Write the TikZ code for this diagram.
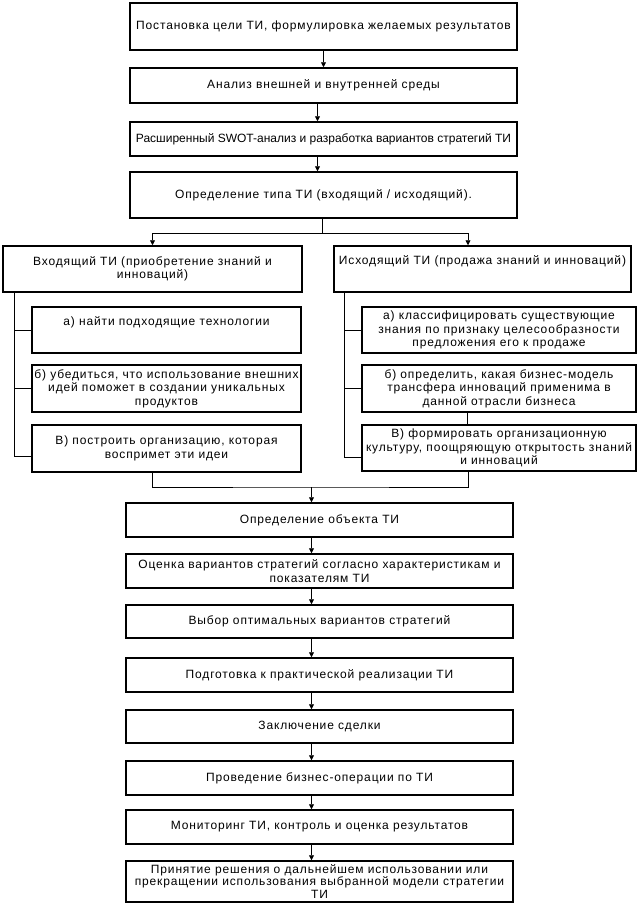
\documentclass[tikz,border=0pt]{standalone}
\usepackage{fontspec}
\setmainfont{Liberation Sans}[LetterSpace=7]
\newfontfamily\swotfont{Liberation Sans}
\usetikzlibrary{arrows.meta,positioning,calc}

\begin{document}
\begin{tikzpicture}[x=1pt, y=-1pt, font=\fontsize{12}{13.5}\selectfont, node distance=15.5pt]
\tikzstyle{box}=[draw, line width=1.5pt, align=center, inner xsep=1pt, inner ysep=1pt]
\tikzstyle{arr}=[line width=0.8pt, -{Triangle[length=5pt,width=5pt]}]
\tikzstyle{ln}=[line width=0.8pt]
\useasboundingbox (0,0) rectangle (639,906);
% main chain, top
\node[box, minimum width=387pt, minimum height=47pt] (goal) at (323.5,26.5) {Постановка цели ТИ, формулировка желаемых результатов};
\node[box, minimum width=387pt, minimum height=35pt, below=16.5pt of goal] (env) {Анализ внешней и внутренней среды};
\node[box, minimum width=387pt, minimum height=34pt, below=17.5pt of env] (swot) {\swotfont Расширенный SWOT-анализ и разработка вариантов стратегий ТИ};
\node[box, minimum width=387pt, minimum height=46pt, below=14.5pt of swot] (type) {Определение типа ТИ (входящий / исходящий).};
% two branches
\node[box, minimum width=299pt, minimum height=46pt] (in) at (152.5,269) {Входящий ТИ (приобретение знаний и\\инноваций)};
\node[box, minimum width=297pt, minimum height=46pt] (out) at (482.5,269) {Исходящий ТИ (продажа знаний и инноваций)\\\strut};
\node[box, minimum width=269pt, minimum height=46pt] (ina) at (166.5,330) {а) найти подходящие технологии\\\strut};
\node[box, minimum width=269pt, minimum height=47pt, below=10.5pt of ina] (inb) {б) убедиться, что использование внешних\\идей поможет в создании уникальных\\продуктов};
\node[box, minimum width=269pt, minimum height=47pt, below=11.5pt of inb] (inc) {В) построить организацию, которая\\воспримет эти идеи};
\node[box, minimum width=274pt, minimum height=46pt] (outa) at (499,330) {а) классифицировать существующие\\знания по признаку целесообразности\\предложения его к продаже};
\node[box, minimum width=274pt, minimum height=47pt, below=10.5pt of outa] (outb) {б) определить, какая бизнес-модель\\трансфера инноваций применима в\\данной отрасли бизнеса};
\node[box, minimum width=274pt, minimum height=46pt, below=11.5pt of outb] (outc) {В) формировать организационную\\культуру, поощряющую открытость знаний\\и инноваций};
% main chain, bottom
\node[box, minimum width=387pt, minimum height=34pt] (obj) at (319.5,520) {Определение объекта ТИ};
\node[box, minimum width=387pt, minimum height=34pt, below=of obj] (eval) {Оценка вариантов стратегий согласно характеристикам и\\показателям ТИ};
\node[box, minimum width=387pt, minimum height=33pt, below=of eval] (choice) {Выбор оптимальных вариантов стратегий};
\node[box, minimum width=387pt, minimum height=34pt, below=18.5pt of choice] (prep) {Подготовка к практической реализации ТИ};
\node[box, minimum width=387pt, minimum height=33pt, below=16.5pt of prep] (deal) {Заключение сделки};
\node[box, minimum width=387pt, minimum height=34pt, below=16.5pt of deal] (oper) {Проведение бизнес-операции по ТИ};
\node[box, minimum width=387pt, minimum height=34pt, below=13.5pt of oper] (mon) {Мониторинг ТИ, контроль и оценка результатов};
\node[box, minimum width=387pt, minimum height=41pt, below=of mon, font=\fontsize{12}{12.5}\selectfont, inner ysep=0pt] (dec) {Принятие решения о дальнейшем использовании или\\прекращении использования выбранной модели стратегии\\ТИ};
% arrows, top
\draw[arr] (goal) -- (env);
\draw[arr] ([xshift=-6pt]env.south) -- ([xshift=-6pt]swot.north);
\draw[arr] ([xshift=-6pt]swot.south) -- ([xshift=-6pt]type.north);
\coordinate (fork) at ([xshift=-1.5pt, yshift=-15pt]type.south);
\draw[ln] ([xshift=-1.5pt]type.south) -- (fork);
\draw[arr] (fork) -| (in.north);
\draw[arr] (fork) -| ([xshift=-14.5pt]out.north);
% branch lines
\draw[ln] ([xshift=12pt]in.south west) |- (ina.west);
\draw[ln] ([xshift=12pt]in.south west) |- (inb.west);
\draw[ln] ([xshift=12pt]in.south west) |- ([yshift=-7.5pt]inc.west);
\draw[ln] ([xshift=11pt]out.south west) |- (outa.west);
\draw[ln] ([xshift=11pt]out.south west) |- (outb.west);
\draw[ln] ([xshift=11pt]out.south west) |- ([yshift=-9pt]outc.west);
\draw[ln] ([xshift=-32pt]outb.south) -- ([xshift=-32pt]outc.north);
% join
\coordinate (join) at (311.5,487);
\draw[ln] ([xshift=-14.5pt]inc.south) |- (join) -| ([xshift=-31pt]outc.south);
\draw[arr] (join) -- (join |- obj.north);
% arrows, bottom
\draw[arr] ([xshift=-8pt]obj.south) -- ([xshift=-8pt]eval.north);
\draw[arr] ([xshift=-8pt]eval.south) -- ([xshift=-8pt]choice.north);
\draw[arr] ([xshift=-8pt]choice.south) -- ([xshift=-8pt]prep.north);
\draw[arr] ([xshift=-8pt]prep.south) -- ([xshift=-8pt]deal.north);
\draw[arr] ([xshift=-8pt]deal.south) -- ([xshift=-8pt]oper.north);
\draw[arr] ([xshift=-8pt]oper.south) -- ([xshift=-8pt]mon.north);
\draw[arr] ([xshift=-8pt]mon.south) -- ([xshift=-8pt]dec.north);
\end{tikzpicture}
\end{document}
